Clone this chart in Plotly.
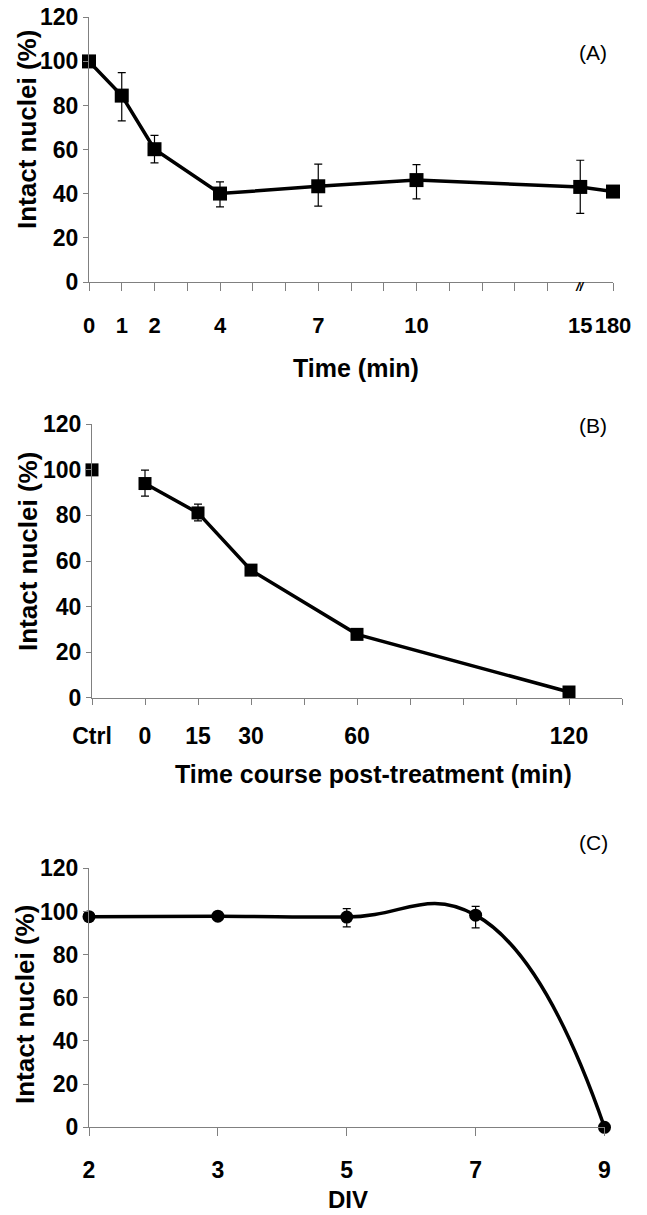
import plotly.graph_objects as go

# ---------------- data ----------------
# Panel A
a_tick_cats = ["0", "1", "2", "3", "4", "5", "6", "7", "8", "9", "10",
               "11", "12", "13", "14", "15", "180"]
a_labeled = ["0", "1", "2", "4", "7", "10", "15", "180"]
a_times = ["0", "1", "2", "4", "7", "10", "15", "180"]
a_values = [100, 84.5, 60.2, 40.1, 43.4, 46.2, 43.1, 41.0]
a_err_plus = [0, 10.4, 6.3, 5.3, 10.0, 7.0, 12.1, 1.5]
a_err_minus = [0, 11.5, 6.2, 6.0, 9.0, 8.5, 12.0, 1.5]

# Panel B
b_ctrl_label = "Ctrl"
b_ctrl_pos = -15
b_ctrl_value = 100
b_times = [0, 15, 30, 60, 120]
b_values = [94.0, 81.1, 56.0, 27.8, 2.5]
b_err_plus = [5.9, 3.9, 0.8, 0.8, 0.8]
b_err_minus = [5.5, 3.5, 0.8, 0.8, 0.8]
b_tick_vals = [-15, 0, 15, 30, 45, 60, 75, 90, 105, 120, 135]
b_labeled = [0, 15, 30, 60, 120]

# Panel C
c_div = ["2", "3", "5", "7", "9"]
c_values = [97.6, 97.8, 97.4, 98.3, 0]
c_err_plus = [0, 0, 3.9, 4.1, 0]
c_err_minus = [0, 0, 4.5, 5.9, 0]

y_ticks = [0, 20, 40, 60, 80, 100, 120]

# ---------------- figure ----------------
W, H = 647, 1215
FONT = "Liberation Sans, Arial, sans-serif"
AX_COL = "#808080"

fig = go.Figure()

err_style = dict(type="data", symmetric=False, color="black", thickness=1.2, width=4)

fig.add_trace(go.Scatter(
    x=a_times, y=a_values, mode="lines+markers", xaxis="x", yaxis="y",
    line=dict(color="black", width=3.5),
    marker=dict(symbol="square", size=14, color="black"),
    error_y=dict(array=a_err_plus, arrayminus=a_err_minus, **err_style),
    cliponaxis=False, showlegend=False))

fig.add_trace(go.Scatter(
    x=[b_ctrl_pos], y=[b_ctrl_value], mode="markers", xaxis="x2", yaxis="y2",
    marker=dict(symbol="square", size=13, color="black"),
    cliponaxis=False, showlegend=False))
fig.add_trace(go.Scatter(
    x=b_times, y=b_values, mode="lines+markers", xaxis="x2", yaxis="y2",
    line=dict(color="black", width=3.5),
    marker=dict(symbol="square", size=13, color="black"),
    error_y=dict(array=b_err_plus, arrayminus=b_err_minus, **err_style),
    cliponaxis=False, showlegend=False))

fig.add_trace(go.Scatter(
    x=c_div, y=c_values, mode="lines+markers", xaxis="x3", yaxis="y3",
    line=dict(color="black", width=3.5, shape="spline", smoothing=1.3),
    marker=dict(symbol="circle", size=13, color="black"),
    error_y=dict(array=c_err_plus, arrayminus=c_err_minus, **err_style),
    cliponaxis=False, showlegend=False))

tickfont = dict(family=FONT, size=23, color="black", weight="bold")
common_x = dict(showline=True, linecolor=AX_COL, linewidth=1, ticks="outside",
                tickcolor=AX_COL, tickwidth=1, showgrid=False, zeroline=False,
                tickangle=0, automargin=False)
common_y = dict(showline=True, linecolor=AX_COL, linewidth=1, ticks="outside",
                ticklen=5, tickcolor=AX_COL, tickwidth=1, showgrid=False,
                zeroline=False, tickfont=tickfont, range=[0, 120], automargin=False,
                tickvals=y_ticks, ticktext=[str(v) for v in y_ticks])

def px_x(p):
    return p / W

def px_y(p):
    return 1 - p / H

fig.update_layout(
    width=W, height=H, margin=dict(l=0, r=0, t=0, b=0, autoexpand=False),
    paper_bgcolor="white", plot_bgcolor="white",
    font=dict(family=FONT, color="black"),
    xaxis=dict(type="category", categoryorder="array", categoryarray=a_tick_cats,
               range=[0, len(a_tick_cats) - 1],
               tickvals=a_tick_cats,
               ticktext=[c if c in a_labeled else "" for c in a_tick_cats],
               tickfont=dict(tickfont, size=22),
               ticklen=8, ticklabelstandoff=16,
               domain=[px_x(89), px_x(613)], anchor="y", **common_x),
    yaxis=dict(domain=[px_y(282), px_y(17.3)], anchor="x", **common_y),
    xaxis2=dict(range=[b_tick_vals[0], b_tick_vals[-1]], tickvals=b_tick_vals,
                ticktext=[b_ctrl_label if v == b_ctrl_pos else (str(v) if v in b_labeled else "")
                          for v in b_tick_vals],
                tickfont=tickfont,
                ticklen=6, ticklabelstandoff=12,
                domain=[px_x(92), px_x(622)], anchor="y2", **common_x),
    yaxis2=dict(domain=[px_y(697.7), px_y(424.3)], anchor="x2", **common_y),
    xaxis3=dict(type="category", categoryorder="array", categoryarray=c_div,
                range=[0, len(c_div) - 1], ticklen=8, ticklabelstandoff=14,
                tickfont=tickfont,
                domain=[px_x(89), px_x(604.5)], anchor="y3", **common_x),
    yaxis3=dict(domain=[px_y(1127.3), px_y(868.3)], anchor="x3", **common_y),
)

title_font = dict(family=FONT, size=25, color="black", weight="bold")
ytitle_font = dict(family=FONT, size=26, color="black", weight="bold")
panel_font = dict(family=FONT, size=21, color="black")

annotations = [
    # y titles
    dict(text="Intact nuclei (%)", x=px_x(27), y=px_y(130), textangle=-90, font=ytitle_font),
    dict(text="Intact nuclei (%)", x=px_x(28), y=px_y(552), textangle=-90, font=ytitle_font),
    dict(text="Intact nuclei (%)", x=px_x(25), y=px_y(1005), textangle=-90, font=ytitle_font),
    # x titles
    dict(text="Time (min)", x=px_x(356), y=px_y(368), font=title_font),
    dict(text="Time course post-treatment (min)", x=px_x(374), y=px_y(774), font=title_font),
    dict(text="DIV", x=px_x(348), y=px_y(1199), font=dict(title_font, size=24)),
    # panel labels
    dict(text="(A)", x=px_x(593), y=px_y(52), font=panel_font),
    dict(text="(B)", x=px_x(593), y=px_y(425), font=panel_font),
    dict(text="(C)", x=px_x(593), y=px_y(842), font=panel_font),
]
for a in annotations:
    a.update(xref="paper", yref="paper", showarrow=False, xanchor="center", yanchor="middle")
# axis break mark
annotations.append(dict(text="<i>//</i>", x="15", y=0, xref="x", yref="y", showarrow=False,
                        xanchor="center", yanchor="middle", yshift=-4,
                        font=dict(family=FONT, size=13, color="black", weight="bold")))
fig.update_layout(annotations=annotations)

fig.write_html(
    "out.html",
    config={"displayModeBar": False, "staticPlot": True},
    post_script="document.body.style.margin='0';document.body.style.overflow='hidden';",
)
